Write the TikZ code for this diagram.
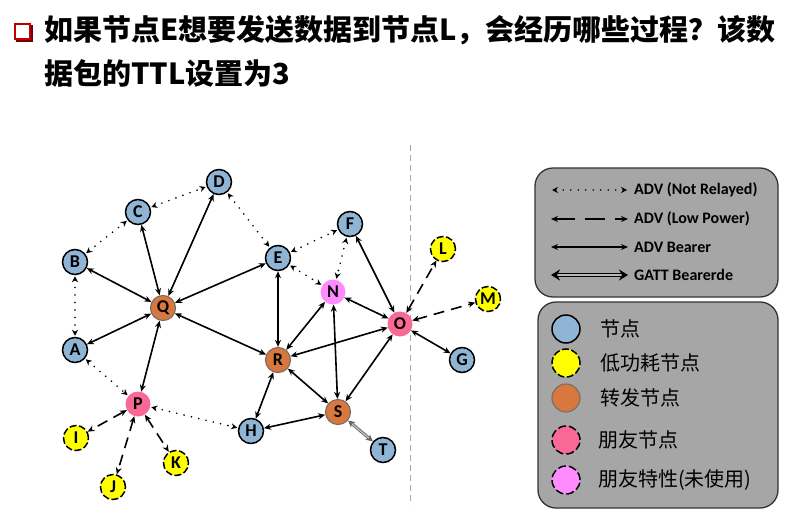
\documentclass[tikz,border=0pt]{standalone}
\usepackage{fontspec}
\setmainfont{Carlito}
\newfontfamily\cjk{Noto Sans CJK SC}
\usetikzlibrary{arrows.meta}

\definecolor{nodeblue}{RGB}{143,180,212}
\definecolor{relayorange}{RGB}{217,120,62}
\definecolor{relayedge}{RGB}{125,110,100}
\definecolor{friendpink}{RGB}{250,104,150}
\definecolor{featpink}{RGB}{255,140,255}
\definecolor{lowyellow}{RGB}{255,255,0}
\definecolor{boxgray}{RGB}{166,166,166}
\definecolor{titlered}{RGB}{192,0,0}

\tikzset{
  nd/.style={circle, minimum size=25pt, inner sep=0pt, font=\bfseries\fontsize{18}{18}\selectfont},
  basic/.style={nd, fill=nodeblue, draw=black, line width=1.5pt},
  lowp/.style={nd, fill=lowyellow, draw=black, line width=1.5pt, dash pattern=on 7pt off 2.5pt},
  relay/.style={nd, fill=relayorange, draw=relayedge, line width=1.2pt},
  friend/.style={nd, fill=friendpink},
  ffeat/.style={nd, fill=featpink},
  tip/.style={>={Stealth[length=7pt,width=6pt]}},
  bearer/.style={tip, <->, line width=1.6pt},
  notrel/.style={<->, >={Stealth[length=6pt,width=6pt]}, line width=1.8pt, line cap=round, dash pattern=on 0pt off 7.5pt, shorten <=1pt, shorten >=1pt},
  lowpow/.style={tip, <->, line width=1.6pt, dash pattern=on 11pt off 7pt},
  gatt/.style={<->, >={Stealth[length=7pt,width=7pt]}, draw=black!60, double=gray!45, double distance=1.2pt, line width=0.9pt},
  legbox/.style={draw=black!80, fill=boxgray, line width=1.3pt, rounded corners=18pt},
  legtext/.style={anchor=west, font=\bfseries\fontsize{16}{16}\selectfont, inner sep=0pt},
  legcjk/.style={anchor=west, font=\cjk\fontsize{20}{20}\selectfont, inner sep=0pt},
  legnd/.style={minimum size=28pt},
  sep/.style={draw=gray!70, line width=0.8pt, dash pattern=on 6pt off 4pt}
}

\begin{document}
\begin{tikzpicture}[x=1pt, y=-1pt]
\useasboundingbox (0,0) rectangle (786,519);

% title bullet and text
\fill[titlered!60!black] (16,25) rectangle (33,42);
\filldraw[fill=white, draw=titlered, line width=2.2pt] (15,24) rectangle (30,39);
\node[anchor=base west, inner sep=0pt, font=\cjk\bfseries\fontsize{29}{29}\selectfont] (t1) at (44,41)
  {如果节点E想要发送数据到节点L，会经历哪些过程？该数};
\node[anchor=base west, inner sep=0pt, font=\cjk\bfseries\fontsize{29}{29}\selectfont] (t2) at (44,84)
  {据包的TTL设置为3};

% separator
\coordinate (sepTop) at (410,145);
\coordinate (sepBot) at (410,505);
\draw[sep] (sepTop) -- (sepBot);

% nodes
\node[basic]  (D) at (219,182) {D};
\node[basic]  (C) at (138,212) {C};
\node[basic]  (B) at (75,262)  {B};
\node[basic]  (E) at (278,258) {E};
\node[basic]  (F) at (350,224) {F};
\node[lowp]   (L) at (443,249) {L};
\node[lowp]   (M) at (488,299) {M};
\node[ffeat]  (N) at (333,292) {N};
\node[relay]  (Q) at (163,308) {Q};
\node[friend] (O) at (400,324) {O};
\node[basic]  (A) at (75,350)  {A};
\node[relay]  (R) at (278,360) {R};
\node[basic]  (G) at (462,360) {G};
\node[friend] (P) at (138,404) {P};
\node[relay]  (S) at (338,412) {S};
\node[basic]  (H) at (251,431) {H};
\node[lowp]   (I) at (76,438)  {I};
\node[lowp]   (K) at (176,463) {K};
\node[basic]  (T) at (383,450) {T};
\node[lowp]   (J) at (113,487) {J};

% ADV bearer links
\foreach \u/\v in {Q/B, Q/C, Q/D, Q/E, Q/A, Q/P, Q/R, E/R, R/N, R/O, R/H, R/S, N/S, O/S, H/S, O/F, O/N, O/G}
  \draw[bearer] (\u) -- (\v);

% ADV not relayed
\foreach \u/\v in {B/C, C/D, D/E, E/F, E/N, F/N, B/A, A/P, P/H}
  \draw[notrel] (\u) -- (\v);

% ADV low power
\foreach \u/\v in {P/I, P/J, P/K, O/L, O/M}
  \draw[lowpow] (\u) -- (\v);

% GATT bearer
\draw[gatt] (S) -- (T);

% legend: links
\draw[legbox] (535,168) rectangle (778,297);
\coordinate (l1a) at (551,190); \coordinate (l1b) at (628,190);
\coordinate (l2a) at (551,219); \coordinate (l2b) at (628,219);
\coordinate (l3a) at (551,247); \coordinate (l3b) at (628,247);
\coordinate (l4a) at (551,275); \coordinate (l4b) at (628,275);
\draw[notrel] (l1a) -- (l1b);
\draw[tip, <->, line width=1.6pt, dash pattern=on 20pt off 10pt] (l2a) -- (l2b);
\draw[bearer] (l3a) -- (l3b);
\draw[<->, >={Stealth[length=9pt,width=11pt]}, draw=black, double=gray!55, double distance=1.6pt, line width=1.6pt] (l4a) -- (l4b);
\node[legtext] (k1) at (634,190) {ADV (Not Relayed)};
\node[legtext] (k2) at (634,219) {ADV (Low Power)};
\node[legtext] (k3) at (634,247) {ADV Bearer};
\node[legtext] (k4) at (634,275) {GATT Bearerde};

% legend: node kinds
\draw[legbox] (538,302) rectangle (778,508);
\node[basic, legnd]  (c1) at (566,329) {};
\node[lowp, legnd]   (c2) at (566,363) {};
\node[relay, legnd]  (c3) at (566,398) {};
\node[friend, legnd, draw=black, line width=1.5pt, dash pattern=on 8pt off 3pt] (c4) at (566,440) {};
\node[ffeat, legnd, draw=black, line width=1.5pt, dash pattern=on 8pt off 3pt]  (c5) at (566,480) {};
\node[legcjk] (n1) at (600,329) {节点};
\node[legcjk] (n2) at (600,363) {低功耗节点};
\node[legcjk] (n3) at (600,398) {转发节点};
\node[legcjk] (n4) at (598,440) {朋友节点};
\node[legcjk] (n5) at (598,480) {朋友特性(未使用)};
\end{tikzpicture}
\end{document}
